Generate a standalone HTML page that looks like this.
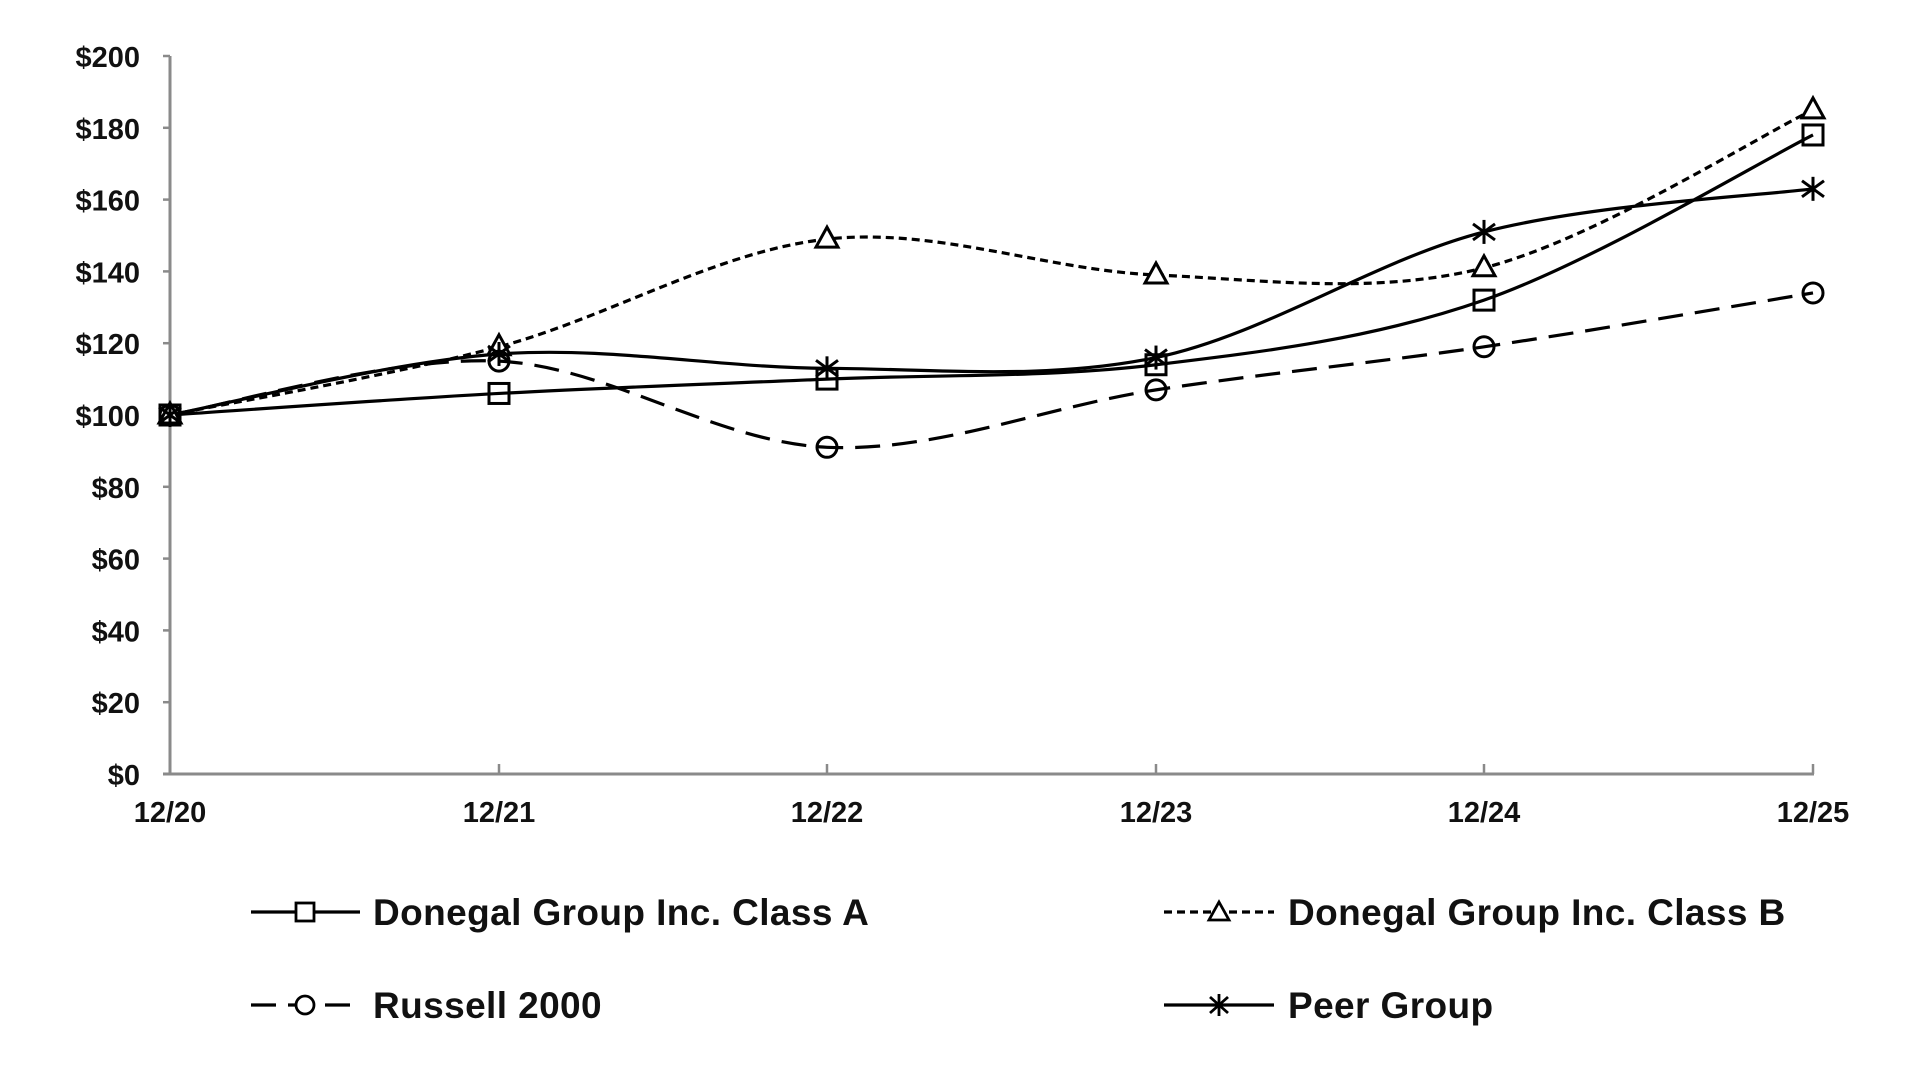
<!DOCTYPE html>
<html><head><meta charset="utf-8">
<style>
html,body{margin:0;padding:0;background:#fff;}
svg{display:block;}
text{font-family:"Liberation Sans",Arial,sans-serif;font-weight:bold;fill:#111;}
</style></head>
<body>
<svg id="c" width="1917" height="1077" viewBox="0 0 1917 1077" xmlns="http://www.w3.org/2000/svg">
<g id="axes"></g>
<g id="series"></g>
<g id="legend">
  <line x1="251" y1="912" x2="360" y2="912" stroke="#000" stroke-width="3.2"/>
  <rect x="296" y="903" width="18" height="18" fill="#fff" stroke="#000" stroke-width="2.8"/>
  <text x="373" y="925" font-size="37" letter-spacing="0.4">Donegal Group Inc. Class A</text>

  <line x1="1164" y1="912" x2="1274" y2="912" stroke="#000" stroke-width="3.2" stroke-dasharray="8,5"/>
  <polygon points="1219,902 1229,920 1209,920" fill="#fff" stroke="#000" stroke-width="2.8"/>
  <text x="1288" y="925" font-size="37" letter-spacing="0.4">Donegal Group Inc. Class B</text>

  <line x1="251" y1="1005" x2="360" y2="1005" stroke="#000" stroke-width="3.2" stroke-dasharray="25,12"/>
  <circle cx="305" cy="1005" r="9" fill="#fff" stroke="#000" stroke-width="2.8"/>
  <text x="373" y="1018" font-size="37" letter-spacing="0.4">Russell 2000</text>

  <line x1="1164" y1="1005" x2="1274" y2="1005" stroke="#000" stroke-width="3.2"/>
  <g stroke="#000" stroke-width="2.8"><line x1="1219" y1="994" x2="1219" y2="1016"/><line x1="1210" y1="997" x2="1228" y2="1013"/><line x1="1228" y1="997" x2="1210" y2="1013"/></g>
  <text x="1288" y="1018" font-size="37" letter-spacing="0.4">Peer Group</text>
</g>
</svg>
<script>
(function(){
var NS="http://www.w3.org/2000/svg";
var xs=[170,499,827,1156,1484,1813];
function Y(v){return 774-v*3.59;}
function el(p,t,a,txt){var e=document.createElementNS(NS,t);for(var k in a)e.setAttribute(k,a[k]);if(txt!=null)e.textContent=txt;p.appendChild(e);return e;}
var ax=document.getElementById('axes');
el(ax,'line',{x1:170,y1:Y(200),x2:170,y2:774,stroke:'#8a8a8a','stroke-width':3});
el(ax,'line',{x1:163,y1:774,x2:1814,y2:774,stroke:'#8a8a8a','stroke-width':3});
for(var v=0;v<=200;v+=20){
  el(ax,'line',{x1:163,y1:Y(v),x2:170,y2:Y(v),stroke:'#8a8a8a','stroke-width':2.5});
  el(ax,'text',{x:140,y:Y(v)+11,'font-size':29,'text-anchor':'end'},'$'+v);
}
var labs=['12/20','12/21','12/22','12/23','12/24','12/25'];
for(var i=0;i<6;i++){
  if(i>0) el(ax,'line',{x1:xs[i],y1:764,x2:xs[i],y2:774,stroke:'#8a8a8a','stroke-width':2.5});
  el(ax,'text',{x:xs[i],y:822,'font-size':29,'text-anchor':'middle'},labs[i]);
}
var data=[
 {v:[100,106,110,114,132,178],d:null,m:'sq'},
 {v:[100,119,149,139,141,185],d:'8,5',m:'tri'},
 {v:[100,115,91,107,119,134],d:'25,12',m:'ci'},
 {v:[100,117,113,116,151,163],d:null,m:'st'}
];
var sg=document.getElementById('series');
data.forEach(function(s){
  var P=s.v.map(function(v,i){return [xs[i],Y(v)];});
  var d='M'+P[0][0]+','+P[0][1];
  var t=1/6;
  for(var i=0;i<P.length-1;i++){
    var p0=P[i-1]||P[i],p1=P[i],p2=P[i+1],p3=P[i+2]||P[i+1];
    var c1=[p1[0]+(p2[0]-p0[0])*t,p1[1]+(p2[1]-p0[1])*t];
    var c2=[p2[0]-(p3[0]-p1[0])*t,p2[1]-(p3[1]-p1[1])*t];
    d+=' C'+c1.join(',')+' '+c2.join(',')+' '+p2.join(',');
  }
  var a={d:d,fill:'none',stroke:'#000','stroke-width':3.2};
  if(s.d)a['stroke-dasharray']=s.d;
  el(sg,'path',a);
});
data.forEach(function(s){
  s.v.forEach(function(v,i){
    var x=xs[i],y=Y(v);
    if(s.m=='sq')el(sg,'rect',{x:x-10,y:y-10,width:20,height:20,fill:'none',stroke:'#000','stroke-width':3});
    if(s.m=='tri')el(sg,'polygon',{points:(x)+','+(y-12)+' '+(x+11)+','+(y+8)+' '+(x-11)+','+(y+8),fill:'#fff',stroke:'#000','stroke-width':3});
    if(s.m=='ci')el(sg,'circle',{cx:x,cy:y,r:10,fill:'none',stroke:'#000','stroke-width':3});
    if(s.m=='st'){var g=el(sg,'g',{stroke:'#000','stroke-width':3});
      el(g,'line',{x1:x,y1:y-12,x2:x,y2:y+12});
      el(g,'line',{x1:x-11,y1:y-8,x2:x+11,y2:y+8});
      el(g,'line',{x1:x+11,y1:y-8,x2:x-11,y2:y+8});}
  });
});
})();
</script>
</body></html>
